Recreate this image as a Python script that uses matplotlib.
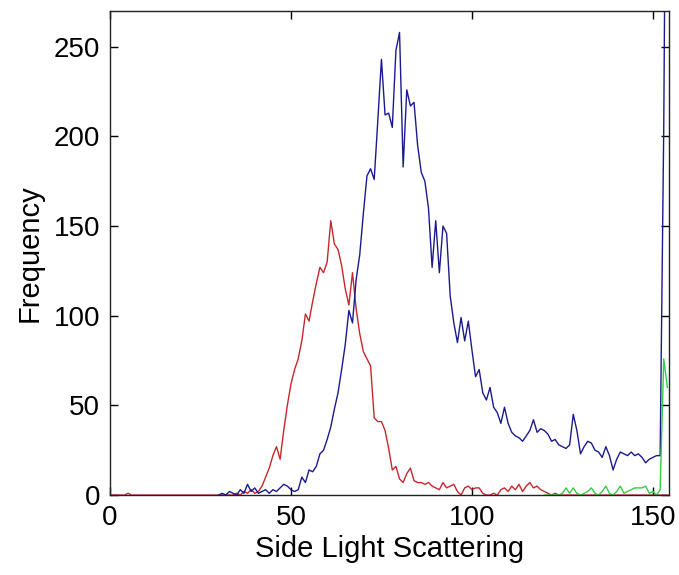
import numpy as np
import matplotlib
matplotlib.use("Agg")
import matplotlib.pyplot as plt

plt.rcParams['font.family'] = ['Liberation Sans', 'DejaVu Sans']

# Histogram counts, one value per bin
red_x = np.arange(0, 155)
red_counts = [0, 0, 0, 0, 0, 1, 0, 0, 0, 0,
              0, 0, 0, 0, 0, 0, 0, 0, 0, 0,
              0, 0, 0, 0, 0, 0, 0, 0, 0, 0,
              0, 0, 0, 0, 0, 1, 0, 2, 1, 3,
              1, 2, 5, 10, 15, 22, 27, 20, 36, 50,
              62, 70, 76, 86, 101, 97, 108, 118, 127, 124,
              130, 153, 140, 137, 128, 115, 106, 124, 104, 90,
              80, 76, 72, 43, 41, 41, 36, 26, 14, 16,
              9, 7, 12, 15, 8, 7, 7, 6, 7, 5,
              4, 3, 7, 4, 5, 6, 2, 0, 4, 5,
              3, 4, 4, 1, 0, 0, 1, 0, 3, 4,
              2, 5, 3, 6, 2, 5, 7, 4, 5, 3,
              2, 1, 0, 1, 0, 0, 0, 0, 0, 0,
              0, 0, 0, 0, 0, 0, 0, 0, 0, 0,
              0, 0, 0, 0, 0, 0, 0, 0, 0, 0,
              0, 0, 0, 0, 0]

blue_x = np.arange(30, 155)
blue_counts = [0, 1, 0, 2, 1, 0, 3, 1, 6, 2,
               4, 1, 2, 3, 1, 3, 2, 4, 6, 5,
               3, 2, 3, 10, 7, 14, 13, 16, 23, 25,
               31, 38, 48, 57, 70, 84, 103, 96, 120, 134,
               157, 178, 182, 176, 209, 243, 212, 213, 205, 248,
               258, 183, 226, 217, 219, 195, 180, 175, 160, 127,
               153, 124, 150, 146, 111, 96, 85, 99, 86, 97,
               81, 66, 70, 57, 53, 60, 49, 46, 40, 49,
               40, 35, 33, 32, 30, 33, 36, 42, 35, 37,
               36, 34, 30, 31, 28, 27, 26, 28, 45, 36,
               23, 27, 30, 29, 25, 24, 21, 27, 22, 14,
               20, 24, 23, 22, 24, 22, 23, 21, 18, 20,
               21, 22, 22, 205, 500]

green_x = np.arange(120, 155)
green_counts = [0, 0, 0, 0, 0, 1, 4, 1, 4, 1,
                0, 1, 2, 4, 1, 0, 2, 5, 1, 0,
                2, 5, 1, 2, 3, 4, 4, 4, 5, 1,
                2, 0, 3, 76, 60]

fig = plt.figure(figsize=(6.79, 5.75), dpi=100)
ax = fig.add_axes([0.162, 0.139, 0.823, 0.842])

ax.plot(red_x, red_counts, color='#c8262c', lw=1.0)
ax.plot(blue_x, blue_counts, color='#1a1a8c', lw=1.0)
ax.plot(green_x, green_counts, color='#33cc44', lw=1.0)

ax.set_xlim(0, 154.4)
ax.set_ylim(0, 270)
ax.set_xticks([0, 50, 100, 150])
ax.set_yticks([0, 50, 100, 150, 200, 250])
ax.tick_params(direction='in', top=True, right=True, length=6,
               width=1, labelsize=20, pad=7)
for s in ax.spines.values():
    s.set_linewidth(1.0)
    s.set_color('#222222')

ax.set_xlabel('Side Light Scattering', fontsize=21, labelpad=3)
ax.set_ylabel('Frequency', fontsize=21, labelpad=7)

fig.savefig('out.png', dpi=100)
